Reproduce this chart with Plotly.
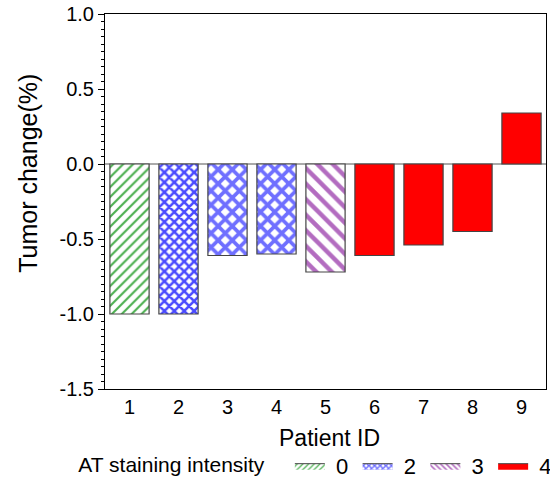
import plotly.graph_objects as go

patients = [1, 2, 3, 4, 5, 6, 7, 8, 9]
tumor_change = [-1.0, -1.0, -0.61, -0.60, -0.72, -0.61, -0.54, -0.45, 0.34]
intensity = [0, 2, 2, 2, 3, 4, 4, 4, 4]
y_ticks = [1.0, 0.5, 0.0, -0.5, -1.0, -1.5]
y_ticklabels = ["1.0", "0.5", "0.0", "-0.5", "-1.0", "-1.5"]
legend_labels = ["0", "2", "3", "4"]

font_family = "Liberation Sans, Arial, sans-serif"
outline = dict(color="#444444", width=1.2)

styles = {
    "0": dict(color="white", pattern=dict(shape="/", fgcolor="#4caf50", bgcolor="white",
                                           fgopacity=1, size=7, solidity=0.3)),
    "2b": dict(color="white", pattern=dict(shape="x", fgcolor="#4a4aff", bgcolor="white",
                                            fgopacity=1, size=7, solidity=0.6)),
    "2": dict(color="white", pattern=dict(shape="x", fgcolor="#6f6fff", bgcolor="white",
                                           fgopacity=1, size=10, solidity=0.6)),
    "3": dict(color="white", pattern=dict(shape="\\", fgcolor="#b36cc0", bgcolor="white",
                                           fgopacity=1, size=11, solidity=0.4)),
    "4": dict(color="#ff0000"),
}

fig = go.Figure()

def sel(idx):
    return [patients[i] for i in idx], [tumor_change[i] for i in idx]

groups = [("0", [0]), ("2b", [1]), ("2", [2, 3]), ("3", [4]), ("4", [5, 6, 7, 8])]
for key, idx in groups:
    x, y = sel(idx)
    fig.add_trace(go.Bar(x=x, y=y, width=0.8, showlegend=False, hoverinfo="skip",
                         marker=dict(line=outline, **styles[key])))

# legend entries (flat rectangles like the reference)
for i, lab in enumerate(legend_labels):
    st = styles[lab]
    kw = dict(fillcolor=st["color"])
    if "pattern" in st:
        kw["fillpattern"] = dict(shape=st["pattern"]["shape"], fgcolor=st["pattern"]["fgcolor"],
                                 bgcolor="white", fgopacity=1,
                                 size=4, solidity=st["pattern"]["solidity"])
    tail = "\u2009" if i < len(legend_labels) - 1 else ""
    fig.add_trace(go.Scatter(x=[None], y=[None], name=" " + lab + tail, mode="lines",
                             fill="toself", line=dict(color="#444444", width=1),
                             showlegend=True, **kw))

fig.update_layout(
    width=550, height=488,
    margin=dict(l=105, r=4, t=14, b=99, autoexpand=False),
    plot_bgcolor="white", paper_bgcolor="white",
    font=dict(family=font_family, color="black", size=20),
    showlegend=True,
    legend=dict(orientation="h", x=-0.065, xanchor="left", y=-0.205, yanchor="middle",
                title=dict(text="AT staining intensity   ", font=dict(size=21)),
                font=dict(size=22), traceorder="normal", itemwidth=30),
    bargap=0.2,
    annotations=[
        dict(text="Tumor change(%)", xref="paper", yref="paper", x=-0.175, y=0.576,
             xanchor="center", yanchor="middle", textangle=-90, showarrow=False,
             font=dict(size=25)),
        dict(text="Patient ID", xref="paper", yref="paper", x=0.51, y=-0.131,
             xanchor="center", yanchor="middle", showarrow=False,
             font=dict(size=23)),
    ],
)
fig.update_xaxes(range=[0.5, 9.5], tickmode="array", tickvals=patients,
                 ticktext=[str(p) for p in patients], automargin=False,
                 showline=True, linecolor="black", linewidth=1, mirror=True,
                 ticks="", showgrid=False, zeroline=False,
                 tickfont=dict(size=20))
fig.update_yaxes(range=[-1.5, 1.0], tickmode="array", tickvals=y_ticks, ticktext=y_ticklabels,
                 automargin=False,
                 showline=True, linecolor="black", linewidth=1, mirror=True,
                 ticks="outside", ticklen=6, tickcolor="black",
                 minor=dict(dtick=0.05, ticks="outside", ticklen=3, tickcolor="black"),
                 showgrid=False, zeroline=True, zerolinecolor="#aaaaaa", zerolinewidth=1.5,
                 tickfont=dict(size=20))

fig.write_html("out.html", config={"displayModeBar": False},
               post_script="document.body.style.margin='0';")
